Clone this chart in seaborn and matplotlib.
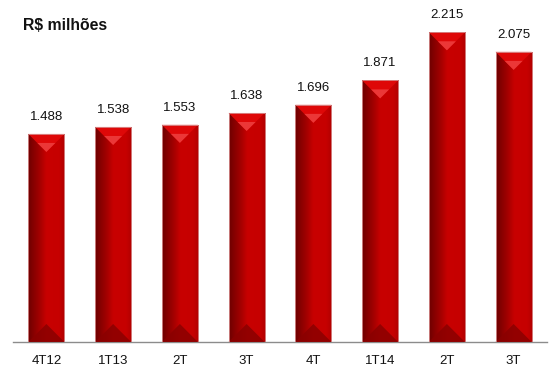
import numpy as np
import pandas as pd
import matplotlib
matplotlib.use("Agg")
import matplotlib.pyplot as plt
from matplotlib.patches import Polygon
from matplotlib.colors import LinearSegmentedColormap
import seaborn as sns

periods = ["4T12", "1T13", "2T", "3T", "4T", "1T14", "2T", "3T"]
values = [1488, 1538, 1553, 1638, 1696, 1871, 2215, 2075]
value_labels = ["1.488", "1.538", "1.553", "1.638", "1.696", "1.871", "2.215", "2.075"]

sns.set_style("white")
plt.rcParams["font.family"] = ["Liberation Sans", "DejaVu Sans"]

df = pd.DataFrame({"pos": [str(i) for i in range(len(values))], "valor": values})

fig = plt.figure(figsize=(5.52, 3.67), dpi=100)
ax = fig.add_axes([13 / 552, 25 / 367, 534 / 552, 342 / 367])
sns.barplot(data=df, x="pos", y="valor", color="#C00000", width=0.54,
            saturation=1, ax=ax, linewidth=0)
ax.set_xlim(-0.5, len(values) - 0.5)
ax.set_ylim(0, 2446)

# Horizontal shading across each bar: dark left face, bright right face
shade = LinearSegmentedColormap.from_list("face", [
    (0.0, "#6E0000"), (0.30, "#A00000"), (0.48, "#C40000"),
    (0.50, "#C80000"), (0.85, "#C60000"), (1.0, "#B00000")])
grad = np.linspace(0, 1, 256).reshape(1, -1)

fig.canvas.draw()
px_per_y = ax.transData.transform((0, 1))[1] - ax.transData.transform((0, 0))[1]
px_per_x = ax.transData.transform((1, 0))[0] - ax.transData.transform((0, 0))[0]

for bar, lab in zip(ax.patches, value_labels):
    x0 = bar.get_x()
    w = bar.get_width()
    h = bar.get_height()
    xc = x0 + w / 2
    im = ax.imshow(grad, cmap=shade, aspect="auto", extent=(x0, x0 + w, 0, h),
                   zorder=2, interpolation="bicubic")
    im.set_clip_path(bar)
    # bevel depth: half the bar width, expressed in y units
    d = (w / 2) * px_per_x / px_per_y
    top = Polygon([(x0, h), (x0 + w, h), (xc, h - d)], closed=True,
                  facecolor="#DE0808", edgecolor="none", zorder=3)
    ax.add_patch(top)
    hl = Polygon([(xc - w * 0.25, h - d * 0.5), (xc + w * 0.25, h - d * 0.5),
                  (xc, h - d)], closed=True, facecolor="#F04848",
                 edgecolor="none", zorder=3.1, alpha=0.75)
    ax.add_patch(hl)
    bot = Polygon([(x0, 0), (x0 + w, 0), (xc, d)], closed=True,
                  facecolor="#8A0000", edgecolor="none", zorder=3, alpha=0.85)
    ax.add_patch(bot)
    ax.add_patch(plt.Rectangle((x0, 0), w, h, facecolor="none",
                               edgecolor="#D89090", linewidth=0.6, zorder=4))
    ax.text(xc, h + 17 / px_per_y, lab, ha="center", va="center",
            fontsize=9.5, color="#111111")
    bar.set_zorder(1)

for s in ["top", "right", "left"]:
    ax.spines[s].set_visible(False)
ax.spines["bottom"].set_color("#8C8C8C")
ax.spines["bottom"].set_linewidth(1.0)
ax.set_yticks([])
ax.set_xlabel("")
ax.set_ylabel("")
ax.set_xticks(range(len(periods)))
ax.set_xticklabels(periods, fontsize=9.5, color="#111111")
ax.tick_params(axis="x", which="major", length=0, pad=9)
ax.set_xticks(np.arange(-0.5, len(periods)), minor=True)
ax.tick_params(axis="x", which="minor", length=4, color="#8C8C8C", width=1)

fig.text(23 / 552, 1 - 26 / 367, "R$ milhões", fontsize=11.3, fontweight="bold",
         ha="left", va="center", color="#111111")

fig.savefig("out.png", dpi=100)
